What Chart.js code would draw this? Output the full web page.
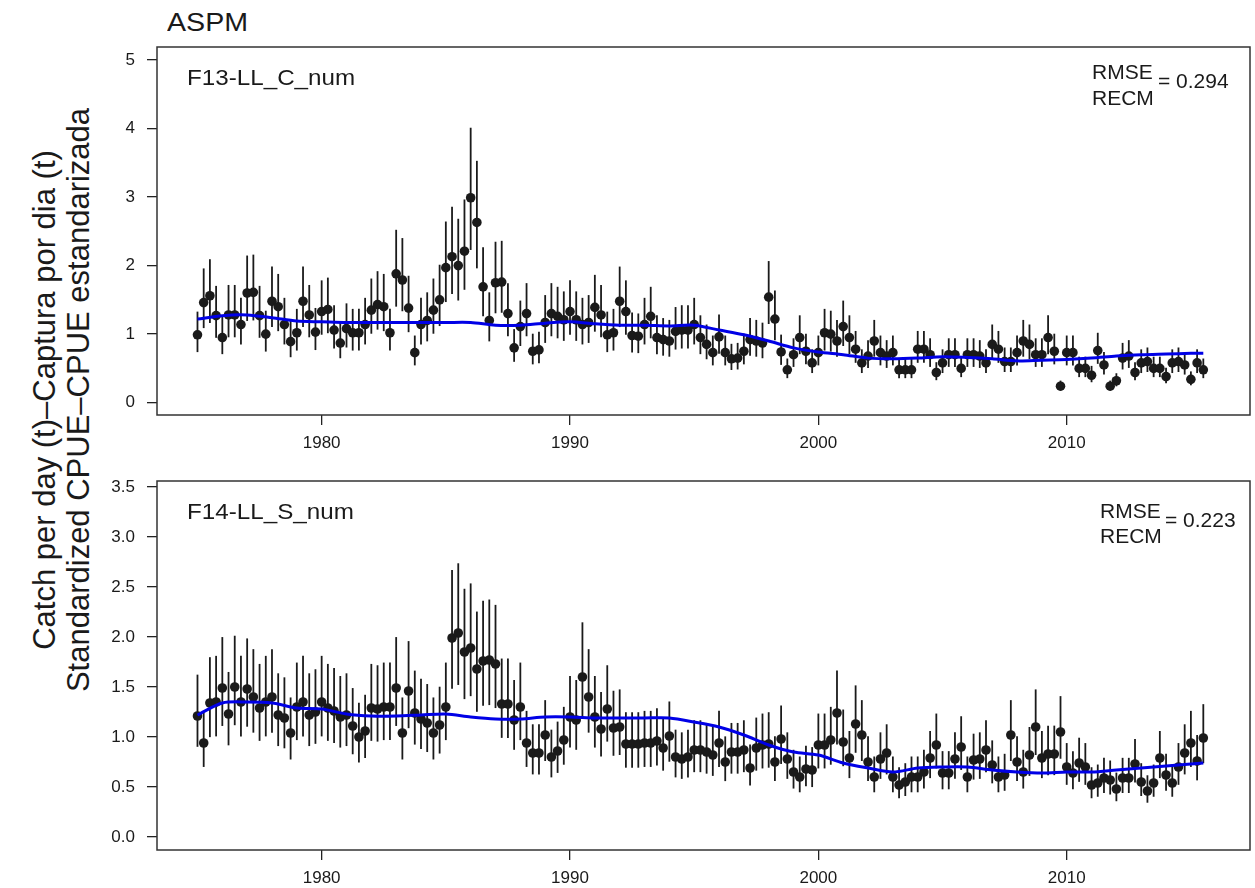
<!DOCTYPE html>
<html>
<head>
<meta charset="utf-8">
<script src="https://cdn.jsdelivr.net/npm/chart.js@4.4.1/dist/chart.umd.min.js"></script>
<style>
  body { margin: 0; background: #fff; width: 1255px; height: 888px; overflow: hidden; position: relative;
         font-family: "Liberation Sans", Arial, sans-serif; color: #1a1a1a; }
  .panel { position: absolute; left: 0; width: 1255px; }
  #top { top: 0; height: 470px; }
  #bot { top: 440px; height: 448px; }
  .txt { position: absolute; white-space: nowrap; line-height: 1; transform-origin: left center; }
  .wide { transform: scaleX(1.1); }
  #ylab { position: absolute; width: 900px; height: 68px; left: -388px; top: 366px; transform: rotate(-90deg);
          text-align: center; font-size: 31px; line-height: 34px; white-space: nowrap; }
</style>
</head>
<body>
<div class="txt wide" style="left:167px;top:9px;font-size:26px">ASPM</div>
<div id="ylab">Catch per day (t)–Captura por dia (t)<br>Standardized CPUE–CPUE estandarizada</div>

<div class="panel" id="top"><canvas id="c13"></canvas></div>
<div class="panel" id="bot"><canvas id="c14"></canvas></div>

<div class="txt wide" style="left:187px;top:67px;font-size:22px">F13-LL_C_num</div>
<div class="txt" style="left:1092px;top:61px;font-size:21px">RMSE</div>
<div class="txt" style="left:1092px;top:87px;font-size:21px">RECM</div>
<div class="txt" style="left:1158px;top:70px;font-size:21px">= 0.294</div>

<div class="txt wide" style="left:187px;top:501px;font-size:22px">F14-LL_S_num</div>
<div class="txt" style="left:1100px;top:500px;font-size:21px">RMSE</div>
<div class="txt" style="left:1100px;top:525px;font-size:21px">RECM</div>
<div class="txt" style="left:1165px;top:509px;font-size:21px">= 0.223</div>

<script>
"use strict";

// quarterly series, first obs 1975 Q1
const START_YEAR = 1975;
const STEP = 0.25;
const X_MIN = 1973.37, X_MAX = 2017.38;
const YEAR_TICKS = [1980, 1990, 2000, 2010];

// F13-LL_C_num observed CPUE (one row per year)
const f13Obs = [
  0.99, 1.46, 1.56, 1.27,  0.95, 1.28, 1.28, 1.14,  1.60, 1.61, 1.27, 1.00,  1.48, 1.40, 1.14, 0.89,
  1.02, 1.48, 1.28, 1.03,  1.33, 1.36, 1.06, 0.87,  1.08, 1.02, 1.02, 1.14,  1.35, 1.43, 1.40, 1.02,
  1.88, 1.79, 1.38, 0.73,  1.14, 1.20, 1.35, 1.50,  1.97, 2.13, 2.00, 2.21,  2.99, 2.63, 1.69, 1.20,
  1.75, 1.76, 1.30, 0.80,  1.11, 1.30, 0.75, 0.77,  1.17, 1.30, 1.26, 1.21,  1.33, 1.21, 1.14, 1.17,
  1.39, 1.28, 0.99, 1.02,  1.48, 1.33, 0.98, 0.97,  1.14, 1.26, 0.95, 0.92,  0.90, 1.04, 1.06, 1.06,
  1.14, 0.95, 0.85, 0.73,  0.96, 0.73, 0.64, 0.65,  0.75, 0.92, 0.90, 0.87,  1.54, 1.22, 0.74, 0.48,
  0.70, 0.95, 0.75, 0.58,  0.73, 1.02, 1.00, 0.90,  1.11, 0.95, 0.78, 0.58,  0.68, 0.90, 0.73, 0.68,
  0.73, 0.48, 0.48, 0.48,  0.78, 0.78, 0.70, 0.44,  0.58, 0.70, 0.70, 0.50,  0.70, 0.70, 0.68, 0.58,
  0.85, 0.78, 0.60, 0.60,  0.73, 0.90, 0.85, 0.70,  0.70, 0.95, 0.75, 0.24,  0.73, 0.73, 0.50, 0.50,
  0.40, 0.76, 0.55, 0.24,  0.32, 0.65, 0.68, 0.44,  0.58, 0.60, 0.50, 0.50,  0.38, 0.58, 0.60, 0.55,
  0.34, 0.58, 0.48,
];
const f13Se = 0.15;
const expYears = [1975, 1976, 1977, 1978, 1979, 1980, 1981, 1982, 1983, 1984, 1985, 1986, 1987, 1988,
  1989, 1990, 1991, 1992, 1993, 1994, 1995, 1996, 1997, 1998, 1999, 2000, 2001, 2002, 2003, 2004,
  2005, 2006, 2007, 2008, 2009, 2010, 2011, 2012, 2013, 2014, 2015, 2015.5];
const f13Exp = [1.22, 1.27, 1.28, 1.24, 1.19, 1.18, 1.17, 1.17, 1.17, 1.17, 1.17, 1.17, 1.13, 1.13,
  1.16, 1.18, 1.15, 1.13, 1.13, 1.12, 1.13, 1.06, 0.99, 0.90, 0.80, 0.74, 0.70, 0.65, 0.64, 0.65,
  0.67, 0.66, 0.64, 0.61, 0.62, 0.63, 0.65, 0.68, 0.70, 0.71, 0.72, 0.72];
const f13Ticks = [0, 1, 2, 3, 4, 5];

// F14-LL_S_num observed CPUE
const f14Obs = [
  1.21, 0.94, 1.34, 1.35,  1.49, 1.23, 1.50, 1.35,  1.48, 1.40, 1.29, 1.35,  1.40, 1.22, 1.19, 1.04,
  1.30, 1.35, 1.22, 1.25,  1.35, 1.29, 1.26, 1.20,  1.22, 1.11, 1.00, 1.06,  1.29, 1.28, 1.30, 1.30,
  1.49, 1.04, 1.46, 1.24,  1.18, 1.14, 1.04, 1.12,  1.30, 1.99, 2.04, 1.85,  1.89, 1.68, 1.76, 1.77,
  1.73, 1.33, 1.33, 1.17,  1.30, 0.94, 0.84, 0.84,  1.02, 0.80, 0.86, 0.97,  1.20, 1.17, 1.60, 1.40,
  1.20, 1.08, 1.28, 1.09,  1.10, 0.93, 0.93, 0.93,  0.94, 0.94, 0.96, 0.89,  1.01, 0.80, 0.78, 0.80,
  0.87, 0.87, 0.85, 0.82,  0.94, 0.75, 0.85, 0.85,  0.87, 0.69, 0.89, 0.92,  0.93, 0.75, 0.98, 0.78,
  0.65, 0.60, 0.68, 0.67,  0.92, 0.92, 0.97, 1.24,  0.95, 0.79, 1.13, 1.02,  0.75, 0.60, 0.78, 0.84,
  0.60, 0.52, 0.55, 0.60,  0.60, 0.65, 0.79, 0.92,  0.64, 0.64, 0.78, 0.90,  0.60, 0.77, 0.78, 0.87,
  0.72, 0.60, 0.62, 1.02,  0.75, 0.65, 0.82, 1.10,  0.79, 0.83, 0.83, 1.05,  0.70, 0.64, 0.74, 0.70,
  0.52, 0.54, 0.59, 0.57,  0.48, 0.59, 0.59, 0.73,  0.55, 0.46, 0.54, 0.79,  0.62, 0.54, 0.70, 0.84,
  0.94, 0.76, 0.99,
];
const f14Se = 0.15;
const f14Exp = [1.22, 1.34, 1.35, 1.34, 1.29, 1.28, 1.23, 1.21, 1.21, 1.22, 1.23, 1.20, 1.18, 1.18,
  1.20, 1.20, 1.19, 1.19, 1.19, 1.19, 1.15, 1.10, 1.02, 0.92, 0.85, 0.82, 0.74, 0.69, 0.65, 0.69,
  0.70, 0.70, 0.67, 0.65, 0.64, 0.65, 0.65, 0.67, 0.69, 0.71, 0.73, 0.74];
const f14Ticks = [0, 0.5, 1, 1.5, 2, 2.5, 3, 3.5];

const INK = "#1a1a1a";
const BLUE = "#0000e6";

// vertical 95% intervals, lognormal on the observed value
const errorBars = {
  id: "errorBars",
  beforeDatasetsDraw(chart, args, opts) {
    const { ctx, chartArea: a, scales: { x, y } } = chart;
    ctx.save();
    ctx.beginPath();
    ctx.rect(a.left, a.top, a.right - a.left, a.bottom - a.top);
    ctx.clip();
    ctx.strokeStyle = INK;
    ctx.lineWidth = 1.8;
    chart.data.datasets[1].data.forEach((p) => {
      const px = x.getPixelForValue(p.x);
      ctx.beginPath();
      ctx.moveTo(px, y.getPixelForValue(p.y * Math.exp(-1.96 * opts.se)));
      ctx.lineTo(px, y.getPixelForValue(p.y * Math.exp(1.96 * opts.se)));
      ctx.stroke();
    });
    ctx.restore();
  },
};

const boxPlugin = {
  id: "box",
  afterDraw(chart) {
    const { ctx, chartArea: a } = chart;
    ctx.save();
    ctx.strokeStyle = "#333";
    ctx.lineWidth = 1.5;
    ctx.strokeRect(a.left, a.top, a.right - a.left, a.bottom - a.top);
    ctx.restore();
  },
};

function makePanel(id, obs, se, exp, ticks, yMin, yMax, padTop, xHeight, fmt) {
  const pts = obs.map((v, i) => ({ x: START_YEAR + i * STEP, y: v }));
  const line = exp.map((v, i) => ({ x: expYears[i], y: v }));
  const tickFont = { family: "'Liberation Sans', Arial, sans-serif", size: 17 };
  return new Chart(document.getElementById(id), {
    type: "scatter",
    data: {
      datasets: [
        { type: "line", data: line, borderColor: BLUE, borderWidth: 3, pointRadius: 0, tension: 0.3, fill: false },
        { data: pts, pointRadius: 4.8, pointHoverRadius: 4.8, backgroundColor: INK, borderWidth: 0 },
      ],
    },
    options: {
      responsive: true, maintainAspectRatio: false, animation: false,
      layout: { autoPadding: false, padding: { top: padTop, right: 5, left: 0, bottom: 0 } },
      plugins: { legend: { display: false }, tooltip: { enabled: false }, errorBars: { se } },
      scales: {
        x: {
          type: "linear", min: X_MIN, max: X_MAX,
          afterBuildTicks: (s) => { s.ticks = YEAR_TICKS.map((v) => ({ value: v })); },
          afterFit: (s) => { s.height = xHeight; },
          grid: { drawOnChartArea: false, drawTicks: true, tickLength: 10, color: "#222", lineWidth: 1.3 },
          border: { display: false },
          ticks: { color: INK, font: tickFont, padding: 8, maxRotation: 0, callback: (v) => String(v) },
        },
        y: {
          type: "linear", min: yMin, max: yMax,
          afterBuildTicks: (s) => { s.ticks = ticks.map((v) => ({ value: v })); },
          afterFit: (s) => { s.width = 157; },
          grid: { drawOnChartArea: false, drawTicks: true, tickLength: 10, color: "#222", lineWidth: 1.3 },
          border: { display: false },
          ticks: { color: INK, font: tickFont, padding: 12, callback: fmt },
        },
      },
    },
    plugins: [errorBars, boxPlugin],
  });
}

makePanel("c13", f13Obs, f13Se, f13Exp, f13Ticks, -0.18, 5.19, 47, 55, (v) => String(v));
makePanel("c14", f14Obs, f14Se, f14Exp, f14Ticks, -0.13, 3.56, 41, 38, (v) => v.toFixed(1));
</script>
</body>
</html>
